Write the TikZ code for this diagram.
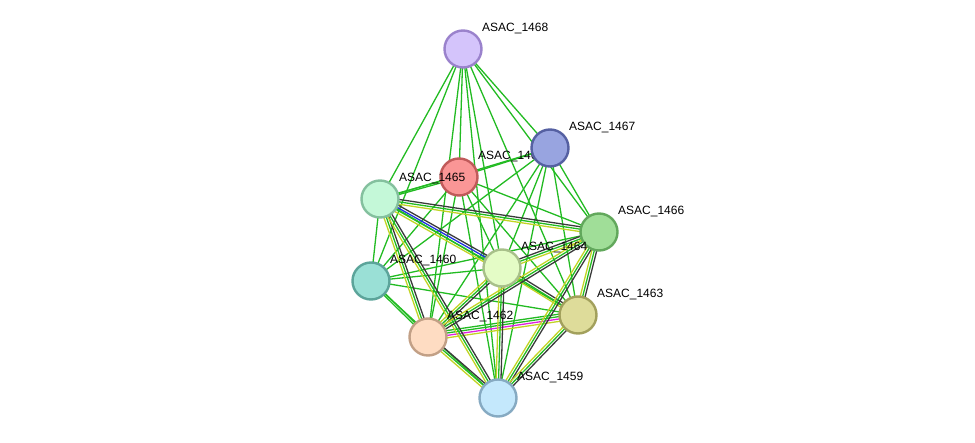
\documentclass[tikz,border=0pt]{standalone}
\usepackage{fontspec}
\setmainfont{Liberation Sans}
\usetikzlibrary{calc}
\usetikzlibrary{backgrounds}
\definecolor{nbgreen}{HTML}{22BB22}
\definecolor{txtyellow}{HTML}{C2D424}
\definecolor{coexp}{HTML}{3A3A3A}
\definecolor{cooc}{HTML}{2030E0}
\definecolor{expmag}{HTML}{E020E0}
\tikzset{
	prot/.style={circle,draw,line width=2.4pt,minimum size=37pt,inner sep=0pt},
	lbl/.style={font=\fontsize{12}{12}\selectfont,text=black,inner sep=0pt,anchor=west},
	edge/.style={line width=1.3pt},
}
% one edge per colour, shifted sideways
\newcommand{\linkab}[3]{
	\foreach \col/\off in {#3}
		\draw[edge,\col] ($(#1.center)!\off pt!90:(#2.center)$) -- ($(#2.center)!\off pt!-90:(#1.center)$);
}
\newcommand{\drawprot}[5]{
	\definecolor{fill#1}{HTML}{#3}
	\definecolor{line#1}{HTML}{#4}
	\node (#1) [prot,fill=fill#1,draw=line#1] at #2 {};
	\node [lbl] at ($(#1.center)+(19,-20)$) {#5};
}

\begin{document}
\begin{tikzpicture}[x=1pt,y=-1pt]
\useasboundingbox (0,0) rectangle (975,443);
\drawprot{p1468}{(463,49)}{D4C4FB}{9A82CC}{ASAC\_1468}
\drawprot{p1461}{(459,177)}{FA9696}{C05A5A}{ASAC\_1461}
\drawprot{p1467}{(550,148)}{98A4E0}{5560A2}{ASAC\_1467}
\drawprot{p1465}{(380,199)}{C4F8D8}{84C09E}{ASAC\_1465}
\drawprot{p1466}{(599,232)}{A0DE98}{62A85C}{ASAC\_1466}
\drawprot{p1464}{(502,268)}{E4FCC6}{A8C08A}{ASAC\_1464}
\drawprot{p1460}{(371,281)}{9AE0D6}{5CA49A}{ASAC\_1460}
\drawprot{p1463}{(578,315)}{DEDC9A}{A2A05C}{ASAC\_1463}
\drawprot{p1462}{(428,337)}{FEDCC2}{C2A086}{ASAC\_1462}
\drawprot{p1459}{(498,398)}{C4E8FC}{86AAC2}{ASAC\_1459}

\begin{pgfonlayer}{background}
% green only
\foreach \b in {p1467,p1461,p1465,p1466,p1464,p1460,p1463,p1462,p1459}
	\linkab{p1468}{\b}{nbgreen/0};
\foreach \b in {p1461,p1465,p1466,p1464,p1460,p1463,p1462,p1459}
	\linkab{p1467}{\b}{nbgreen/0};
\foreach \b in {p1466,p1464,p1460,p1463,p1462,p1459}
	\linkab{p1461}{\b}{nbgreen/0};
\foreach \b in {p1464,p1466,p1463,p1459}
	\linkab{p1460}{\b}{nbgreen/0};
\linkab{p1461}{p1465}{nbgreen/-0.8,nbgreen/0.8}
\linkab{p1465}{p1460}{nbgreen/0}
\linkab{p1465}{p1463}{nbgreen/0}
\linkab{p1460}{p1462}{nbgreen/-1,nbgreen/1}
% several channels
\linkab{p1465}{p1464}{txtyellow/-3.6,nbgreen/-1.2,cooc/1.2,coexp/3.6}
\linkab{p1462}{p1463}{txtyellow/-3.6,expmag/-1.2,nbgreen/1.2,nbgreen/3.6}
\foreach \a/\b in {p1465/p1466,p1465/p1462,p1465/p1459,p1464/p1463,p1464/p1466,p1464/p1462,p1464/p1459,p1462/p1459,p1466/p1463,p1466/p1459,p1463/p1459,p1466/p1462}
	\linkab{\a}{\b}{txtyellow/-2.4,nbgreen/0,coexp/2.4};
\end{pgfonlayer}
\end{tikzpicture}
\end{document}
